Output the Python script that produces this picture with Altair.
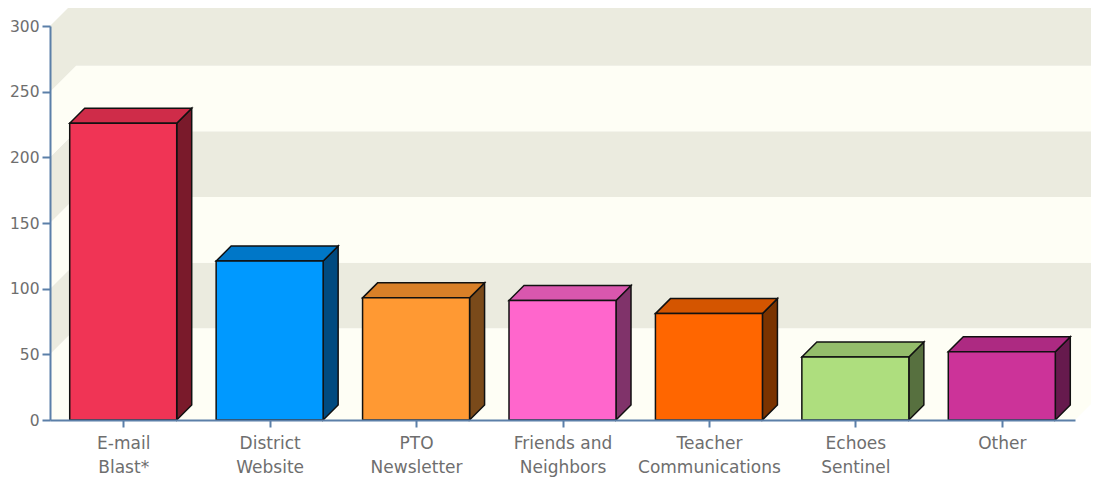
import json
import altair as alt
import pandas as pd

# ---- data ----
categories = ["E-mail\nBlast*", "District\nWebsite", "PTO\nNewsletter",
              "Friends and\nNeighbors", "Teacher\nCommunications",
              "Echoes\nSentinel", "Other"]
values = [226, 121, 93, 91, 81, 48, 52]
y_ticks = [0, 50, 100, 150, 200, 250, 300]

# ---- styles ----
front_colors = ["#F03455", "#0099FF", "#FF9933", "#FF66CC", "#FF6600", "#AEDE7E", "#CC3399"]
top_colors = ["#CF2C49", "#0077C8", "#D98028", "#D957AE", "#D45500", "#94BD6B", "#AD2A82"]
side_colors = ["#7A1A2B", "#004A80", "#7A4A1A", "#80336A", "#7A3300", "#57703F", "#661A4D"]
WALL_DARK = "#EBEBDF"
WALL_LIGHT = "#FEFEF5"
AXIS_COLOR = "#5B7FA8"
LABEL_COLOR = "#6E6E6E"

PLOT_W = 1025
PLOT_H = 394
Y_MAX = 300
n = len(categories)
ux = PLOT_W / n          # px per x unit
uy = PLOT_H / Y_MAX      # px per y unit
HALF = 53.5 / ux         # half bar width
BAR_DX = 15 / ux
BAR_DY = 15 / uy
WALL_DX = 26 / ux
WALL_DY = 26 / uy
X0, X1 = -0.5, n - 0.5

xs = alt.Scale(domain=[X0, X1], nice=False, zero=False)
ys = alt.Scale(domain=[0, Y_MAX], nice=False, zero=False)

label_lines = json.dumps([c.split("\n") for c in categories])
x_axis = alt.Axis(values=list(range(n)), labelExpr=label_lines + "[datum.value]",
                  title=None, grid=False, zindex=1, tickSize=7, labelPadding=8,
                  labelBaseline="top", labelLineHeight=24, labelFlush=False,
                  labelFontSize=17)
y_axis = alt.Axis(values=y_ticks, title=None, grid=False, zindex=1, tickSize=8,
                  labelPadding=3, labelFontSize=15.5)

# ---- back wall ----
bands = []
for k in range(len(y_ticks) - 1):
    lo, hi = y_ticks[k], y_ticks[k + 1]
    bands.append({"band": k, "x": X0 + WALL_DX, "x2": X1 + WALL_DX + 0.3,
                  "y": lo + WALL_DY, "y2": hi + WALL_DY,
                  "c": WALL_LIGHT if k % 2 == 0 else WALL_DARK})
back = alt.Chart(pd.DataFrame(bands)).mark_rect().encode(
    x=alt.X("x:Q", scale=xs, axis=x_axis), x2="x2:Q",
    y=alt.Y("y:Q", scale=ys, axis=y_axis), y2="y2:Q",
    color=alt.Color("c:N", scale=None),
)

side_wall_rows = []
for b in bands:
    k = b["band"]
    lo, hi = y_ticks[k], y_ticks[k + 1]
    side_wall_rows.append({"band": k, "x": X0, "y": lo, "y2": hi, "c": b["c"]})
    side_wall_rows.append({"band": k, "x": X0 + WALL_DX, "y": lo + WALL_DY, "y2": hi + WALL_DY, "c": b["c"]})
side_wall = alt.Chart(pd.DataFrame(side_wall_rows)).mark_area(orient="vertical").encode(
    x=alt.X("x:Q", scale=xs, axis=x_axis),
    y=alt.Y("y:Q", scale=ys, axis=y_axis, stack=None), y2="y2:Q",
    detail="band:N",
    color=alt.Color("c:N", scale=None),
)

floor_rows = [
    {"y": 0, "x": X0, "x2": X1},
    {"y": WALL_DY, "x": X0 + WALL_DX, "x2": X1 + WALL_DX},
]
floor = alt.Chart(pd.DataFrame(floor_rows)).mark_area(orient="horizontal", color=WALL_LIGHT).encode(
    y=alt.Y("y:Q", scale=ys, axis=y_axis),
    x=alt.X("x:Q", scale=xs, axis=x_axis, stack=None), x2="x2:Q",
)

# ---- bars ----
side_rows, top_rows, front_rows = [], [], []
for i, v in enumerate(values):
    side_rows.append({"cat": i, "x": i + HALF, "y": v, "y2": 0, "c": side_colors[i]})
    side_rows.append({"cat": i, "x": i + HALF + BAR_DX, "y": v + BAR_DY, "y2": BAR_DY, "c": side_colors[i]})
    top_rows.append({"cat": i, "y": v, "x": i - HALF, "x2": i + HALF, "c": top_colors[i]})
    top_rows.append({"cat": i, "y": v + BAR_DY, "x": i - HALF + BAR_DX, "x2": i + HALF + BAR_DX, "c": top_colors[i]})
    front_rows.append({"cat": i, "x": i - HALF, "x2": i + HALF, "y": v, "y2": 0, "c": front_colors[i]})

bar_side = alt.Chart(pd.DataFrame(side_rows)).mark_area(
    orient="vertical", stroke="#111111", strokeWidth=1.5, strokeJoin="miter").encode(
    x=alt.X("x:Q", scale=xs, axis=x_axis),
    y=alt.Y("y:Q", scale=ys, axis=y_axis, stack=None), y2="y2:Q",
    detail="cat:N",
    color=alt.Color("c:N", scale=None),
)
bar_top = alt.Chart(pd.DataFrame(top_rows)).mark_area(
    orient="horizontal", stroke="#111111", strokeWidth=1.5, strokeJoin="miter").encode(
    y=alt.Y("y:Q", scale=ys, axis=y_axis),
    x=alt.X("x:Q", scale=xs, axis=x_axis, stack=None), x2="x2:Q",
    detail="cat:N",
    color=alt.Color("c:N", scale=None),
)

bar_front = alt.Chart(pd.DataFrame(front_rows)).mark_rect(
    stroke="#111111", strokeWidth=1.5).encode(
    x=alt.X("x:Q", scale=xs, axis=x_axis), x2="x2:Q",
    y=alt.Y("y:Q", scale=ys, axis=y_axis), y2="y2:Q",
    color=alt.Color("c:N", scale=None),
)

chart = alt.layer(back, side_wall, floor, bar_side, bar_top, bar_front).properties(
    width=PLOT_W, height=PLOT_H,
    autosize=alt.AutoSizeParams(type="none"),
    padding={"left": 42, "top": 18, "right": 16, "bottom": 61},
    background="white",
).configure_view(strokeWidth=0).configure_axis(
    domainColor=AXIS_COLOR, domainWidth=2, tickColor=AXIS_COLOR, tickWidth=2,
    labelColor=LABEL_COLOR, labelFont="DejaVu Sans",
)

chart.save("out.html", embed_options={"renderer": "svg", "actions": False})
